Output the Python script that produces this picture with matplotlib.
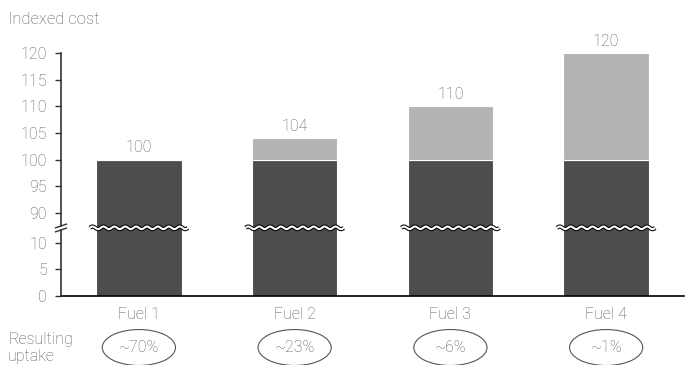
import numpy as np
import matplotlib
matplotlib.use("Agg")
import matplotlib.pyplot as plt
from matplotlib.patches import Ellipse
import matplotlib.transforms as mtransforms

# -----------------------------
# Data
# -----------------------------
fuels = ["Fuel 1", "Fuel 2", "Fuel 3", "Fuel 4"]
base_cost = [100, 100, 100, 100]
extra_cost = [0, 4, 10, 20]
total_cost = [100, 104, 110, 120]
uptake = ["~70%", "~23%", "~6%", "~1%"]
y_ticks = [0, 5, 10, 90, 95, 100, 105, 110, 115, 120]

DARK = "#4d4d4d"
LIGHT = "#b3b3b3"
TEXT = "#5a5a5a"

plt.rcParams["font.family"] = ["Roboto", "DejaVu Sans"]
plt.rcParams["font.weight"] = "light"

# -----------------------------
# Broken y scale: 0-12 linear, squeeze 12-88, then linear again
# -----------------------------
SRC = np.array([0.0, 12.0, 88.0, 200.0])
DST = np.array([0.0, 12.0, 13.63, 125.63])


def fwd(v):
    v = np.asarray(v, dtype=float)
    out = np.interp(v, SRC, DST)
    return np.where(v < 0, v, out)


def inv(d):
    d = np.asarray(d, dtype=float)
    out = np.interp(d, DST, SRC)
    return np.where(d < 0, d, out)


fig = plt.figure(figsize=(6.88, 3.65), dpi=100)
ax = fig.add_axes([61 / 688, 1 - 296 / 365, (684 - 61) / 688, (296 - 53) / 365])
ax.set_yscale("function", functions=(fwd, inv))

x = np.arange(len(fuels))
w = 0.55
ax.bar(x, base_cost, width=w, color=DARK, edgecolor="white", linewidth=0.8, zorder=2)
ax.bar(x, extra_cost, width=w, bottom=base_cost, color=LIGHT,
       edgecolor="white", linewidth=0.8, zorder=2)

for xi, t in zip(x, total_cost):
    ax.annotate(str(t), (xi, t), xytext=(0, 3), textcoords="offset points",
                ha="center", va="bottom", fontsize=11.5, color=TEXT)

ax.set_xlim(-0.5, 3.5)
ax.set_ylim(0, 120)
ax.set_yticks(y_ticks)
ax.set_yticklabels([str(t) for t in y_ticks])
ax.tick_params(axis="y", length=4, width=1, color="#333333", labelcolor=TEXT,
               labelsize=11.5, pad=6)
ax.set_xticks(x)
ax.set_xticklabels(fuels)
ax.tick_params(axis="x", length=0, labelcolor=TEXT, labelsize=11.5, pad=8)

for s in ["top", "right", "left"]:
    ax.spines[s].set_visible(False)
ax.spines["bottom"].set_color("black")
ax.spines["bottom"].set_linewidth(1.2)

# -----------------------------
# Break marks (scaled-y coordinates)
# -----------------------------
scaled = ax.transLimits + ax.transAxes
brk = 12.8
ax.plot([-0.5, -0.5], [0, brk - 0.45], color="#333333", lw=1.2,
        transform=scaled, clip_on=False, zorder=3)
ax.plot([-0.5, -0.5], [brk + 0.35, 45.63], color="#333333", lw=1.2,
        transform=scaled, clip_on=False, zorder=3)
for off in (-0.4, 0.35):
    ax.plot([-0.535, -0.465], [brk + off - 0.35, brk + off + 0.35],
            color="#333333", lw=1.0, transform=scaled, clip_on=False, zorder=3)

for xi in x:
    xs = np.linspace(xi - w / 2 - 0.04, xi + w / 2 + 0.04, 200)
    ys = brk + 0.25 * np.sin(2 * np.pi * (xs - xs[0]) / 0.07)
    ax.plot(xs, ys, color="black", lw=3.0, transform=scaled, zorder=4,
            solid_capstyle="butt")
    ax.plot(xs, ys, color="white", lw=1.5, transform=scaled, zorder=5,
            solid_capstyle="butt")

# -----------------------------
# Uptake ellipses
# -----------------------------
blend = mtransforms.blended_transform_factory(ax.transData, ax.transAxes)
for xi, u in zip(x, uptake):
    ax.add_patch(Ellipse((xi, -0.212), 0.47, 0.148, transform=blend,
                         facecolor="none", edgecolor="#555555", lw=0.8,
                         clip_on=False))
    ax.text(xi, -0.212, u, transform=blend, ha="center", va="center",
            fontsize=11.5, color=TEXT)

fig.text(8 / 688, 1 - 20 / 365, "Indexed cost", ha="left", va="center",
         fontsize=12, color=TEXT)
fig.text(8 / 688, 1 - 348 / 365, "Resulting\nuptake", ha="left", va="center",
         fontsize=11.5, color=TEXT, linespacing=1.2)

fig.savefig("out.png", dpi=100)
